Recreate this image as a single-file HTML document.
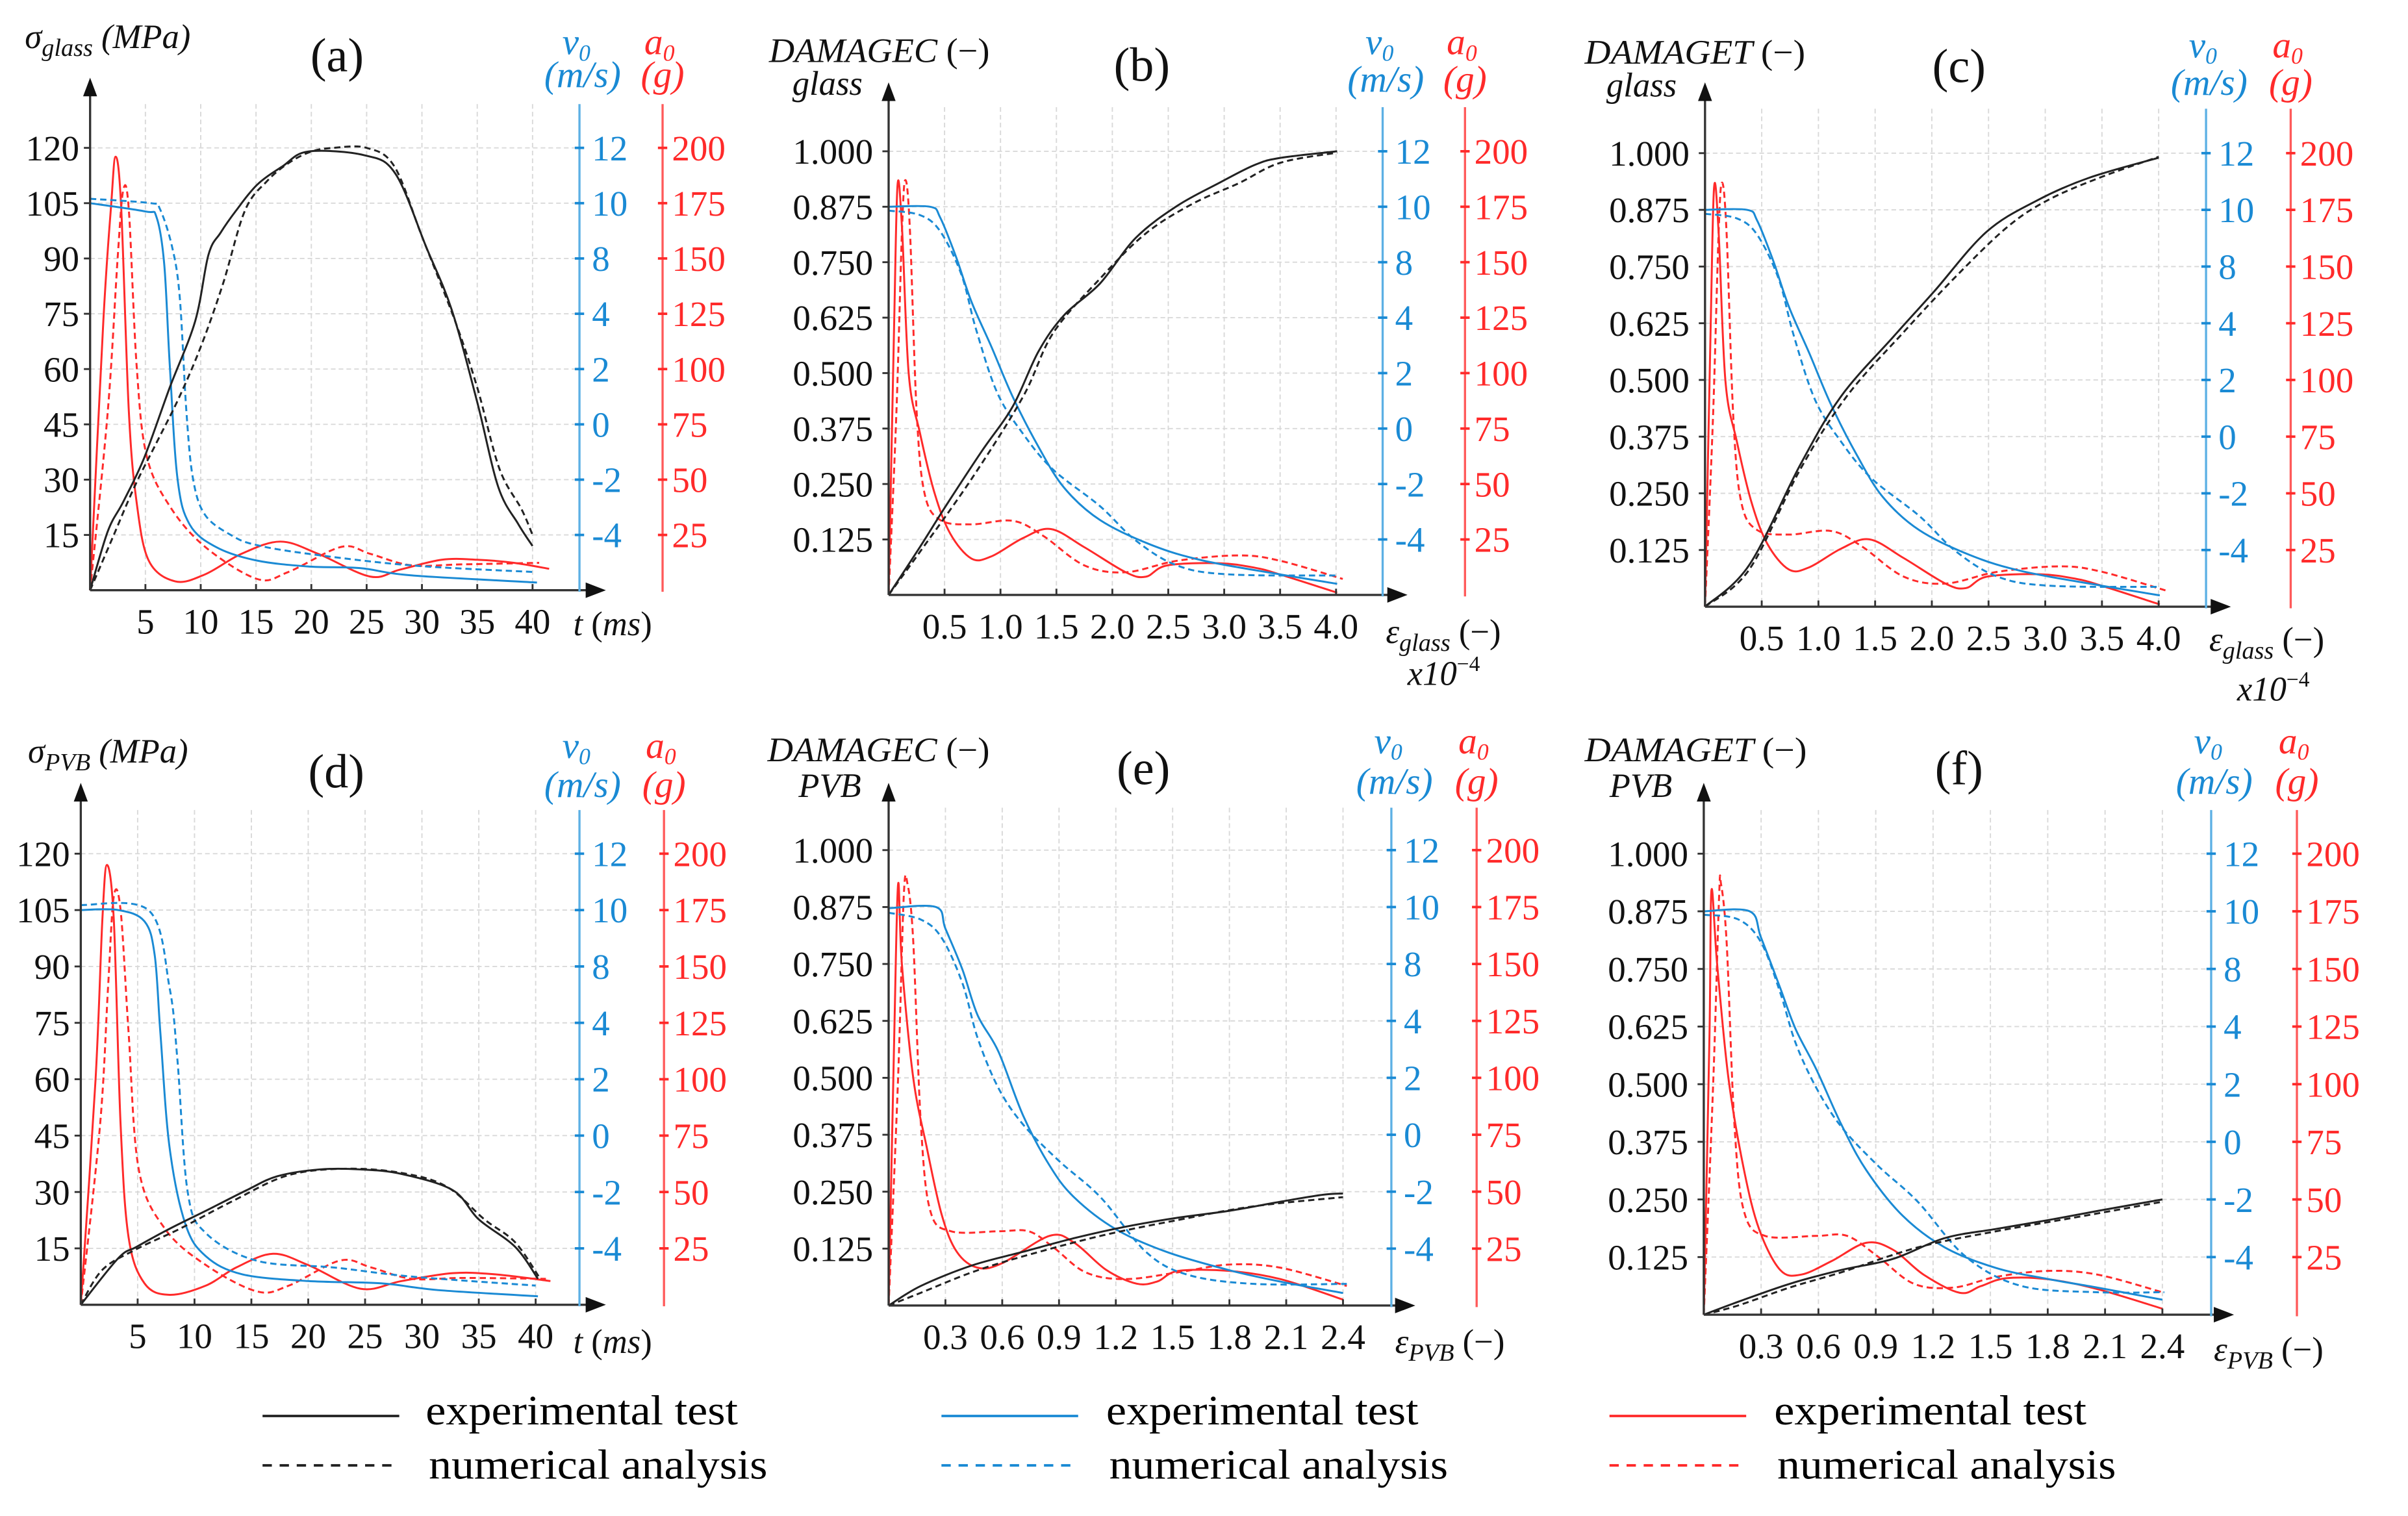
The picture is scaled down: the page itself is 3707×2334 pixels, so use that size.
<!DOCTYPE html>
<html><head><meta charset="utf-8"><style>
html,body{margin:0;padding:0;background:#fff}
svg{display:block;font-family:"Liberation Serif","DejaVu Serif",serif}
svg text{font-family:"Liberation Serif","DejaVu Serif",serif}
</style></head><body>
<svg id="fig" xmlns="http://www.w3.org/2000/svg" width="3707" height="2334" viewBox="0 0 1550 976" preserveAspectRatio="none" font-family="Liberation Serif, serif">
<rect width="1550" height="976" fill="#fff"/>
<g id="root"></g>
<g>
 <line x1="169" y1="911.6" x2="257" y2="911.6" stroke="#222" stroke-width="1.6"/>
 <text x="274" y="917" font-size="27" textLength="201" lengthAdjust="spacingAndGlyphs">experimental test</text>
 <line x1="169" y1="943.4" x2="257" y2="943.4" stroke="#222" stroke-width="1.6" stroke-dasharray="6,5"/>
 <text x="276" y="952" font-size="27" textLength="218" lengthAdjust="spacingAndGlyphs">numerical analysis</text>
 <line x1="606" y1="911.6" x2="694" y2="911.6" stroke="#1a8ad4" stroke-width="1.6"/>
 <text x="712" y="917" font-size="27" textLength="201" lengthAdjust="spacingAndGlyphs">experimental test</text>
 <line x1="606" y1="943.4" x2="694" y2="943.4" stroke="#1a8ad4" stroke-width="1.6" stroke-dasharray="6,5"/>
 <text x="714" y="952" font-size="27" textLength="218" lengthAdjust="spacingAndGlyphs">numerical analysis</text>
 <line x1="1036" y1="911.6" x2="1124" y2="911.6" stroke="#ff2a2a" stroke-width="1.6"/>
 <text x="1142" y="917" font-size="27" textLength="201" lengthAdjust="spacingAndGlyphs">experimental test</text>
 <line x1="1036" y1="943.4" x2="1124" y2="943.4" stroke="#ff2a2a" stroke-width="1.6" stroke-dasharray="6,5"/>
 <text x="1144" y="952" font-size="27" textLength="218" lengthAdjust="spacingAndGlyphs">numerical analysis</text>
</g>
</svg>
<script>
// ---------- tick labels ----------
const tTickVals=[5,10,15,20,25,30,35,40];
const tTickLabels=["5","10","15","20","25","30","35","40"];
const epsGTickVals=[0.5,1.0,1.5,2.0,2.5,3.0,3.5,4.0];
const epsGTickLabels=["0.5","1.0","1.5","2.0","2.5","3.0","3.5","4.0"];
const epsPTickVals=[0.3,0.6,0.9,1.2,1.5,1.8,2.1,2.4];
const epsPTickLabels=["0.3","0.6","0.9","1.2","1.5","1.8","2.1","2.4"];
const sigmaTickLabels=["15","30","45","60","75","90","105","120"];
const damageTickLabels=["0.125","0.250","0.375","0.500","0.625","0.750","0.875","1.000"];
const v0TickVals=[-4,-2,0,2,4,8,10,12];
const a0TickVals=[25,50,75,100,125,150,175,200];

// ---------- panel (a) ----------
const aKExpX=[0,1.6,3,4.9,7.2,9.5,10.7,11.8,13.2,15.1,17.4,19.7,24.8,27.6,30.4,32.7,35,36.9,38.7,40];
const aKExpY=[0,16,24,36,55,73,91,97,103,110,115,119,118,113,93,76,51,28,18,12];
const aKNumX=[0,2,4,6,8,10,12,14,16,18,20,22,25,27.5,30,33,35,37,39,40];
const aKNumY=[0,14,28,40,52,66,83,103,111,116,119,120,120,115,96,73,55,33,22,15];
const aBExpX=[0,5,6,6.7,7.2,7.9,9,11.4,15,19.7,24.4,29,40.4];
const aBExpY=[10,9.7,9.5,7.6,2.16,-1.96,-3.62,-4.44,-4.92,-5.14,-5.2,-5.46,-5.72];
const aBNumX=[0,5.5,6.3,7.4,8.1,8.7,9.3,10.4,12.8,15,19.7,29,40.1];
const aBNumY=[10.16,10,9.8,8.44,5.24,0.5,-1.96,-3.28,-4.02,-4.36,-4.68,-5.1,-5.34];
const aRExpX=[0,1.2,1.9,2.3,2.8,3.5,4.2,5.3,7.7,10.4,13.7,17.2,20.6,25.3,28,31.8,35,38.3,41.5];
const aRExpY=[0,122,174,196,174,81,40,13.4,4,7.2,16.5,22,16.5,6.2,9.3,13.8,13.8,12.4,9.7];
const aRNumX=[0,1.6,2.5,3,3.5,4.2,5.1,7.2,10.4,15.1,17.9,22.7,25.3,29,33.6,40.6];
const aRNumY=[0,81,151,181,172,102,61,38,19.6,5.1,8.2,19.6,16.5,11.3,11.7,12.4];

// ---------- panel (b) ----------
const bKExpX=[0,0.28,0.51,0.83,1.11,1.34,1.57,1.89,2.21,2.58,2.95,3.27,3.5,4.01];
const bKExpY=[0,0.108,0.2,0.323,0.425,0.549,0.631,0.702,0.805,0.877,0.928,0.969,0.985,1.0];
const bKNumX=[0,0.28,0.74,1.2,1.47,1.89,2.3,2.72,3.13,3.5,4.01];
const bKNumY=[0,0.097,0.261,0.446,0.59,0.713,0.815,0.882,0.928,0.974,0.997];
const bBExpX=[0,0.37,0.46,0.6,0.74,0.92,1.11,1.34,1.57,1.89,2.35,2.81,3.5,4.01];
const bBExpY=[10,10,9.62,8.22,5.16,2.94,1.14,-0.66,-2.14,-3.3,-4.2,-4.76,-5.26,-5.6];
const bBNumX=[0,0.28,0.46,0.65,0.78,0.97,1.2,1.47,1.89,2.21,2.58,3.04,4.01];
const bBNumY=[9.86,9.7,9.12,7.12,3.6,1.3,-0.18,-1.48,-2.8,-4.04,-4.94,-5.26,-5.3];
const bRExpX=[0,0.05,0.08,0.12,0.18,0.28,0.41,0.55,0.74,0.92,1.2,1.45,1.75,2.12,2.3,2.49,2.95,3.27,3.5,4.01];
const bRExpY=[0,124,185,165,99.5,73,46,27.7,16.4,17.4,25.6,29.7,21.5,10.2,8.2,13.3,14.3,12.3,9.2,1];
const bRNumX=[0,0.07,0.12,0.15,0.19,0.25,0.32,0.46,0.74,1.11,1.38,1.75,2.12,2.58,3.13,3.5,4.06];
const bRNumY=[0,83,165,187,165,83,46,33.8,31.8,33.4,26.7,13.3,10.2,15.4,17.8,15.4,7.2];

// ---------- panel (c) ----------
const cKExpX=[0,0.39,0.84,1.2,1.66,2.02,2.48,2.93,3.39,4.0];
const cKExpY=[0,0.092,0.313,0.464,0.595,0.695,0.826,0.896,0.946,0.99];
const cKNumX=[0,0.39,0.84,1.25,1.75,2.2,2.66,3.02,3.48,4.0];
const cKNumY=[0,0.082,0.303,0.464,0.605,0.725,0.836,0.896,0.946,0.992];
const cBExpX=[0,0.37,0.46,0.6,0.74,0.92,1.11,1.34,1.57,1.89,2.35,2.81,3.5,4.01];
const cBExpY=[10,10,9.62,8.22,5.16,2.94,1.14,-0.66,-2.14,-3.3,-4.2,-4.76,-5.26,-5.6];
const cBNumX=[0,0.28,0.46,0.65,0.78,0.97,1.2,1.47,1.89,2.21,2.58,3.04,4.01];
const cBNumY=[9.86,9.7,9.12,7.12,3.6,1.3,-0.18,-1.48,-2.8,-4.04,-4.94,-5.26,-5.3];
const cRExpX=[0,0.05,0.08,0.12,0.18,0.28,0.41,0.55,0.74,0.92,1.2,1.45,1.75,2.12,2.3,2.49,2.95,3.27,3.5,4.01];
const cRExpY=[0,124,185,165,99.5,73,46,27.7,16.4,17.4,25.6,29.7,21.5,10.2,8.2,13.3,14.3,12.3,9.2,1];
const cRNumX=[0,0.07,0.12,0.15,0.19,0.25,0.32,0.46,0.74,1.11,1.38,1.75,2.12,2.58,3.13,3.5,4.06];
const cRNumY=[0,83,165,187,165,83,46,33.8,31.8,33.4,26.7,13.3,10.2,15.4,17.8,15.4,7.2];

// ---------- panel (d) ----------
const dKExpX=[0,3.3,4.9,7.8,11,14.6,17.3,21,24.6,28.2,32.7,35,38.2,40.2];
const dKExpY=[0,12.4,15.4,20.2,25,30.5,34.2,36,36,34.8,30.5,22.7,15.4,6.9];
const dKNumX=[0,1.9,4.9,8.7,13.3,18.3,23.7,28.7,32.3,35.5,38.2,40.4];
const dKNumY=[0,9.3,14.8,20.2,27.5,34.5,36.2,34.8,31.2,22.7,16.6,6.9];
const dBExpX=[0,3.3,5.6,6.5,7,7.8,9.2,11,14.2,20,26.4,31.4,40.2];
const dBExpY=[10,10,9.6,8.4,3.64,-0.4,-3.14,-4.28,-4.92,-5.16,-5.24,-5.48,-5.7];
const dBNumX=[0,6,7.8,8.5,9.4,11,15.5,22.3,29.1,40];
const dBNumY=[10.18,9.98,6.52,2.68,-2,-3.46,-4.44,-4.68,-5,-5.32];
const dRExpX=[0,1.3,1.9,2.3,2.9,3.5,4.2,5.6,7.8,11,13.7,16.9,20,24.6,28.2,32.7,36.4,41.3];
const dRExpY=[0,100,171,195,171,80,30,9.5,4.4,8.5,16.6,22.6,17.6,7.1,10.5,14,13.5,10.5];
const dRNumX=[0,1.7,2.4,2.9,3.5,4.2,5.1,7.4,11,15.5,18.3,22.8,25.5,29.1,33.6,40.9];
const dRNumY=[0,80,141,181,175,121,60,33.7,17.6,5.9,8.5,19.6,16.6,11.5,11.9,11.5];

// ---------- panel (e) ----------
const eKExpX=[0,0.17,0.44,0.71,0.98,1.25,1.53,1.8,2.07,2.29,2.4];
const eKExpY=[0,0.043,0.088,0.118,0.148,0.173,0.193,0.208,0.228,0.243,0.246];
const eKNumX=[0,0.17,0.44,0.71,1.12,1.53,1.93,2.4];
const eKNumY=[0,0.028,0.073,0.108,0.153,0.188,0.218,0.238];
const eBExpX=[0,0.25,0.3,0.39,0.47,0.58,0.71,0.85,0.98,1.2,1.47,1.8,2.07,2.4];
const eBExpY=[9.96,10,9.24,7.6,4.4,2.92,0.68,-1.08,-2.2,-3.32,-4.12,-4.76,-5.16,-5.56];
const eBNumX=[0,0.17,0.28,0.39,0.47,0.58,0.71,0.9,1.12,1.36,1.58,1.93,2.42];
const eBNumY=[9.8,9.56,8.92,6.64,3.4,1.64,0.36,-0.92,-2.2,-4.12,-4.92,-5.24,-5.24];
const eRExpX=[0,0.03,0.05,0.07,0.13,0.2,0.28,0.36,0.47,0.6,0.85,0.98,1.15,1.31,1.42,1.53,1.8,2.07,2.4];
const eRExpY=[0,120,185,150,100,70,40,23.6,16.6,18.6,30.6,27.6,15.6,9.6,10.6,15.2,15.2,11.6,2.6];
const eRNumX=[0,0.05,0.08,0.1,0.13,0.17,0.22,0.33,0.58,0.74,0.87,1.04,1.25,1.53,1.8,2.07,2.42];
const eRNumY=[0,100,180,185,160,80,41.6,32.6,32.6,32.6,25.6,14.6,11.6,14.6,18,16.6,8.6];

// ---------- panel (f) ----------
const fKExpX=[0,0.18,0.45,0.72,0.99,1.26,1.53,1.8,2.06,2.4];
const fKExpY=[0,0.028,0.067,0.097,0.121,0.166,0.186,0.205,0.225,0.25];
const fKNumX=[0,0.18,0.45,0.72,1.12,1.53,1.93,2.4];
const fKNumY=[0,0.02,0.059,0.092,0.146,0.181,0.21,0.245];
const fBExpX=[0,0.24,0.3,0.4,0.48,0.59,0.72,0.85,1.04,1.26,1.53,1.8,2.06,2.4];
const fBExpY=[10,10,9.08,6.68,3.92,2.5,0.6,-0.98,-2.56,-3.66,-4.38,-4.76,-5.06,-5.48];
const fBNumX=[0,0.18,0.3,0.4,0.48,0.59,0.72,0.91,1.12,1.37,1.66,2.06,2.41];
const fBNumY=[9.88,9.72,8.92,6.36,3.44,1.86,0.52,-0.82,-2.08,-3.98,-5,-5.22,-5.22];
const fRExpX=[0,0.03,0.04,0.07,0.13,0.21,0.29,0.4,0.51,0.67,0.85,0.99,1.15,1.34,1.45,1.58,1.8,2.06,2.4];
const fRExpY=[0,122,184,152,102,63,37,19.4,17.4,23.3,31.2,28.2,17.4,9.5,12.4,15.8,15.4,11.1,2.6];
const fRNumX=[0,0.05,0.08,0.09,0.12,0.16,0.21,0.32,0.59,0.75,0.91,1.1,1.31,1.53,1.8,2.06,2.41];
const fRNumY=[0,102,181,187,161,83,45,34.2,34.2,34.2,25.3,13.4,11.8,16.4,19,17.4,9.5];

// ---------- layout (pixel positions in viewBox units) ----------
const NS="http://www.w3.org/2000/svg";
const FONT="Liberation Serif, DejaVu Serif, serif";
const BLUE="#1a8ad4", BLUEAX="#5cb0e4", RED="#ff2a2a", REDAX="#ff5a5a", BLK="#222";
const panels=[
 {id:"a",ox:58,oy:380,xUnit:5,xPx:35.6,yPx:35.6,yUnit:15,blue:373,red:426.5,top:67,arrowTop:50,arrowEnd:390,
  xv:tTickVals,xl:tTickLabels,yl:sigmaTickLabels,lblGap:7,
  k:[aKExpX,aKExpY,aKNumX,aKNumY],b:[aBExpX,aBExpY,aBNumX,aBNumY],r:[aRExpX,aRExpY,aRNumX,aRNumY],
  title:{x:217,y:46,t:"(a)"},vy:[35,56]},
 {id:"b",ox:572,oy:383,xUnit:0.5,xPx:36.0,yPx:35.7,yUnit:0.125,blue:890,red:943,top:69,arrowTop:53,arrowEnd:906,
  xv:epsGTickVals,xl:epsGTickLabels,yl:damageTickLabels,lblGap:10,
  k:[bKExpX,bKExpY,bKNumX,bKNumY],b:[bBExpX,bBExpY,bBNumX,bBNumY],r:[bRExpX,bRExpY,bRNumX,bRNumY],
  title:{x:735,y:52,t:"(b)"},vy:[35,59]},
 {id:"c",ox:1097.5,oy:390.6,xUnit:0.5,xPx:36.5,yPx:36.5,yUnit:0.125,blue:1420,red:1474.5,top:70,arrowTop:53,arrowEnd:1436,
  xv:epsGTickVals,xl:epsGTickLabels,yl:damageTickLabels,lblGap:10,
  k:[cKExpX,cKExpY,cKNumX,cKNumY],b:[cBExpX,cBExpY,cBNumX,cBNumY],r:[cRExpX,cRExpY,cRNumX,cRNumY],
  title:{x:1261,y:53,t:"(c)"},vy:[37,61]},
 {id:"d",ox:52,oy:840,xUnit:5,xPx:36.6,yPx:36.3,yUnit:15,blue:373,red:427.4,top:521.5,arrowTop:504,arrowEnd:390,
  xv:tTickVals,xl:tTickLabels,yl:sigmaTickLabels,lblGap:7,
  k:[dKExpX,dKExpY,dKNumX,dKNumY],b:[dBExpX,dBExpY,dBNumX,dBNumY],r:[dRExpX,dRExpY,dRNumX,dRNumY],
  title:{x:216.5,y:507,t:"(d)"},vy:[488,513]},
 {id:"e",ox:572,oy:840.5,xUnit:0.3,xPx:36.56,yPx:36.65,yUnit:0.125,blue:895.6,red:950.5,top:520,arrowTop:504,arrowEnd:911,
  xv:epsPTickVals,xl:epsPTickLabels,yl:damageTickLabels,lblGap:10,
  k:[eKExpX,eKExpY,eKNumX,eKNumY],b:[eBExpX,eBExpY,eBNumX,eBNumY],r:[eRExpX,eRExpY,eRNumX,eRNumY],
  title:{x:736,y:505,t:"(e)"},vy:[485,511]},
 {id:"f",ox:1096.7,oy:846.4,xUnit:0.3,xPx:36.9,yPx:37.1,yUnit:0.125,blue:1423.3,red:1478.5,top:521.5,arrowTop:504,arrowEnd:1438,
  xv:epsPTickVals,xl:epsPTickLabels,yl:damageTickLabels,lblGap:10,
  k:[fKExpX,fKExpY,fKNumX,fKNumY],b:[fBExpX,fBExpY,fBNumX,fBNumY],r:[fRExpX,fRExpY,fRNumX,fRNumY],
  title:{x:1261,y:505,t:"(f)"},vy:[485,511]}
];

function mk(tag,attrs,parent){const e=document.createElementNS(NS,tag);for(const k in attrs)e.setAttribute(k,attrs[k]);if(tag==="text")e.setAttribute("font-family",FONT);parent.appendChild(e);return e;}
function vStep(v){const t=v0TickVals;if(v<=t[0])return 1+(v-t[0])/2;for(let i=0;i<t.length-1;i++){if(v<=t[i+1])return i+1+(v-t[i])/(t[i+1]-t[i]);}return t.length+(v-t[t.length-1])/2;}
function smoothPath(pts){let d="M"+pts[0][0].toFixed(2)+","+pts[0][1].toFixed(2);
 for(let i=0;i<pts.length-1;i++){const p0=pts[Math.max(0,i-1)],p1=pts[i],p2=pts[i+1],p3=pts[Math.min(pts.length-1,i+2)];
  const c1=[p1[0]+(p2[0]-p0[0])/6,p1[1]+(p2[1]-p0[1])/6],c2=[p2[0]-(p3[0]-p1[0])/6,p2[1]-(p3[1]-p1[1])/6];
  d+=" C"+c1[0].toFixed(2)+","+c1[1].toFixed(2)+" "+c2[0].toFixed(2)+","+c2[1].toFixed(2)+" "+p2[0].toFixed(2)+","+p2[1].toFixed(2);}
 return d;}

const root=document.getElementById("root");
panels.forEach(p=>{
 const g=mk("g",{},root);
 
 
 const X=v=>p.ox+v/p.xUnit*p.xPx;
 const YS=s=>p.oy-s*p.yPx;
 const grid=mk("g",{stroke:"#d9d9d9","stroke-width":0.8,"stroke-dasharray":"3,2"},g);
 
 
 p.xv.forEach(v=>{mk("line",{x1:X(v),x2:X(v),y1:p.top,y2:p.oy},grid);});
 for(let s=1;s<=8;s++){mk("line",{x1:p.ox,x2:p.blue,y1:YS(s),y2:YS(s)},grid);}
 function series(xs,ys,conv,color,dash,name){
  const pts=xs.map((x,i)=>[X(x),YS(conv(ys[i]))]);
  const el=mk("path",{d:smoothPath(pts),fill:"none",stroke:color,"stroke-width":1.25,"stroke-linejoin":"round"},g);
  if(dash)el.setAttribute("stroke-dasharray","4,2.5");
  
  
 }
 const kc=v=>v/p.yUnit, rc=v=>v/25;
 series(p.r[0],p.r[1],rc,RED,false,"a0-experimental-"+p.id);
 series(p.r[2],p.r[3],rc,RED,true,"a0-numerical-"+p.id);
 series(p.b[0],p.b[1],vStep,BLUE,false,"v0-experimental-"+p.id);
 series(p.b[2],p.b[3],vStep,BLUE,true,"v0-numerical-"+p.id);
 series(p.k[0],p.k[1],kc,BLK,false,"stress-experimental-"+p.id);
 series(p.k[2],p.k[3],kc,BLK,true,"stress-numerical-"+p.id);
 const ax=mk("g",{},g);
 
 
 mk("line",{x1:p.ox,y1:p.oy,x2:p.ox,y2:p.arrowTop+8,stroke:"#333","stroke-width":1.4},ax);
 mk("polygon",{points:`${p.ox-4.5},${p.arrowTop+12} ${p.ox+4.5},${p.arrowTop+12} ${p.ox},${p.arrowTop}`,fill:"#111"},ax);
 mk("line",{x1:p.ox,y1:p.oy,x2:p.arrowEnd-8,y2:p.oy,stroke:"#333","stroke-width":1.4},ax);
 mk("polygon",{points:`${p.arrowEnd-13},${p.oy-5} ${p.arrowEnd-13},${p.oy+5} ${p.arrowEnd},${p.oy}`,fill:"#111"},ax);
 mk("line",{x1:p.blue,y1:p.top,x2:p.blue,y2:p.oy+1,stroke:BLUEAX,"stroke-width":1.4},ax);
 mk("line",{x1:p.red,y1:p.top,x2:p.red,y2:p.oy+1,stroke:REDAX,"stroke-width":1.4},ax);
 p.xv.forEach((v,i)=>{
  mk("line",{x1:X(v),x2:X(v),y1:p.oy-4,y2:p.oy,stroke:"#333","stroke-width":1.2},ax);
  const t=mk("text",{x:X(v),y:p.oy+28,"font-size":23,"text-anchor":"middle",fill:"#111"},ax);
  t.textContent=p.xl[i];
  
  
 });
 for(let s=1;s<=8;s++){
  const y=YS(s);
  mk("line",{x1:p.ox-4,x2:p.ox,y1:y,y2:y,stroke:"#333","stroke-width":1.2},ax);
  const t=mk("text",{x:p.ox-p.lblGap,y:y+8,"font-size":23,"text-anchor":"end",fill:"#111"},ax);
  t.textContent=p.yl[s-1];
  
  
  mk("line",{x1:p.blue-3,x2:p.blue+3,y1:y,y2:y,stroke:BLUE,"stroke-width":1.6},ax);
  const tb=mk("text",{x:p.blue+8,y:y+8,"font-size":23,fill:BLUE},ax);
  tb.textContent=String(v0TickVals[s-1]);
  
  
  mk("line",{x1:p.red-3,x2:p.red+3,y1:y,y2:y,stroke:RED,"stroke-width":1.6},ax);
  const tr=mk("text",{x:p.red+6,y:y+8,"font-size":23,fill:RED},ax);
  tr.textContent=String(a0TickVals[s-1]);
  
  
 }
 const pt=mk("text",{x:p.title.x,y:p.title.y,"font-size":31,"text-anchor":"middle",fill:"#111"},g);
 pt.textContent=p.title.t;
 
 
 const v1=mk("text",{x:p.blue-2,y:p.vy[0],"font-size":24,"font-style":"italic","text-anchor":"middle",fill:BLUE},g);
 v1.innerHTML='v<tspan font-size="15" dy="4">0</tspan>';
 
 
 const v2=mk("text",{x:p.blue+2,y:p.vy[1],"font-size":24,"font-style":"italic","text-anchor":"middle",fill:BLUE},g);
 v2.textContent="(m/s)";
 
 
 const r1=mk("text",{x:p.red-2,y:p.vy[0],"font-size":24,"font-style":"italic","text-anchor":"middle",fill:RED},g);
 r1.innerHTML='a<tspan font-size="15" dy="4">0</tspan>';
 
 
 const r2=mk("text",{x:p.red,y:p.vy[1],"font-size":24,"font-style":"italic","text-anchor":"middle",fill:RED},g);
 r2.textContent="(g)";
 
 
});

const titles=[
 {x:16,y:31,h:'σ<tspan font-size="16" dy="5">glass</tspan><tspan dy="-5"> (MPa)</tspan>',n:'y-axis-title-a'},
 {x:18,y:491,h:'σ<tspan font-size="16" dy="5">PVB</tspan><tspan dy="-5"> (MPa)</tspan>',n:'y-axis-title-d'},
 {x:495,y:40,h:'DAMAGEC <tspan font-style="normal">(−)</tspan>',n:'y-axis-title-b',len:142},
 {x:510,y:61,h:'glass',n:'y-axis-subtitle-b'},
 {x:1020,y:41,h:'DAMAGET <tspan font-style="normal">(−)</tspan>',n:'y-axis-title-c',len:142},
 {x:1034,y:62,h:'glass',n:'y-axis-subtitle-c'},
 {x:494,y:490,h:'DAMAGEC <tspan font-style="normal">(−)</tspan>',n:'y-axis-title-e',len:143},
 {x:514,y:513,h:'PVB',n:'y-axis-subtitle-e'},
 {x:1020,y:490,h:'DAMAGET <tspan font-style="normal">(−)</tspan>',n:'y-axis-title-f',len:143},
 {x:1036,y:513,h:'PVB',n:'y-axis-subtitle-f'},
 {x:369,y:409,h:'t <tspan font-style="normal">(</tspan>ms<tspan font-style="normal">)</tspan>',n:'x-axis-title-a'},
 {x:369,y:871,h:'t <tspan font-style="normal">(</tspan>ms<tspan font-style="normal">)</tspan>',n:'x-axis-title-d'},
 {x:892,y:414,h:'ε<tspan font-size="16" dy="5">glass</tspan><tspan dy="-5" font-style="normal"> (−)</tspan>',n:'x-axis-title-b'},
 {x:906,y:441,h:'x10<tspan font-size="14" dy="-9" font-style="normal">−4</tspan>',n:'x-axis-exponent-b'},
 {x:1422,y:419,h:'ε<tspan font-size="16" dy="5">glass</tspan><tspan dy="-5" font-style="normal"> (−)</tspan>',n:'x-axis-title-c'},
 {x:1440,y:451,h:'x10<tspan font-size="14" dy="-9" font-style="normal">−4</tspan>',n:'x-axis-exponent-c'},
 {x:898,y:871,h:'ε<tspan font-size="16" dy="5">PVB</tspan><tspan dy="-5" font-style="normal"> (−)</tspan>',n:'x-axis-title-e'},
 {x:1425,y:876,h:'ε<tspan font-size="16" dy="5">PVB</tspan><tspan dy="-5" font-style="normal"> (−)</tspan>',n:'x-axis-title-f'}
];
titles.forEach(t=>{
 const e=mk("text",{x:t.x,y:t.y,"font-size":22,"font-style":"italic",fill:"#111"},root);
 if(t.len){e.setAttribute("textLength",t.len);e.setAttribute("lengthAdjust","spacingAndGlyphs");}
 e.innerHTML=t.h;
 
 
});
</script>
</body></html>
